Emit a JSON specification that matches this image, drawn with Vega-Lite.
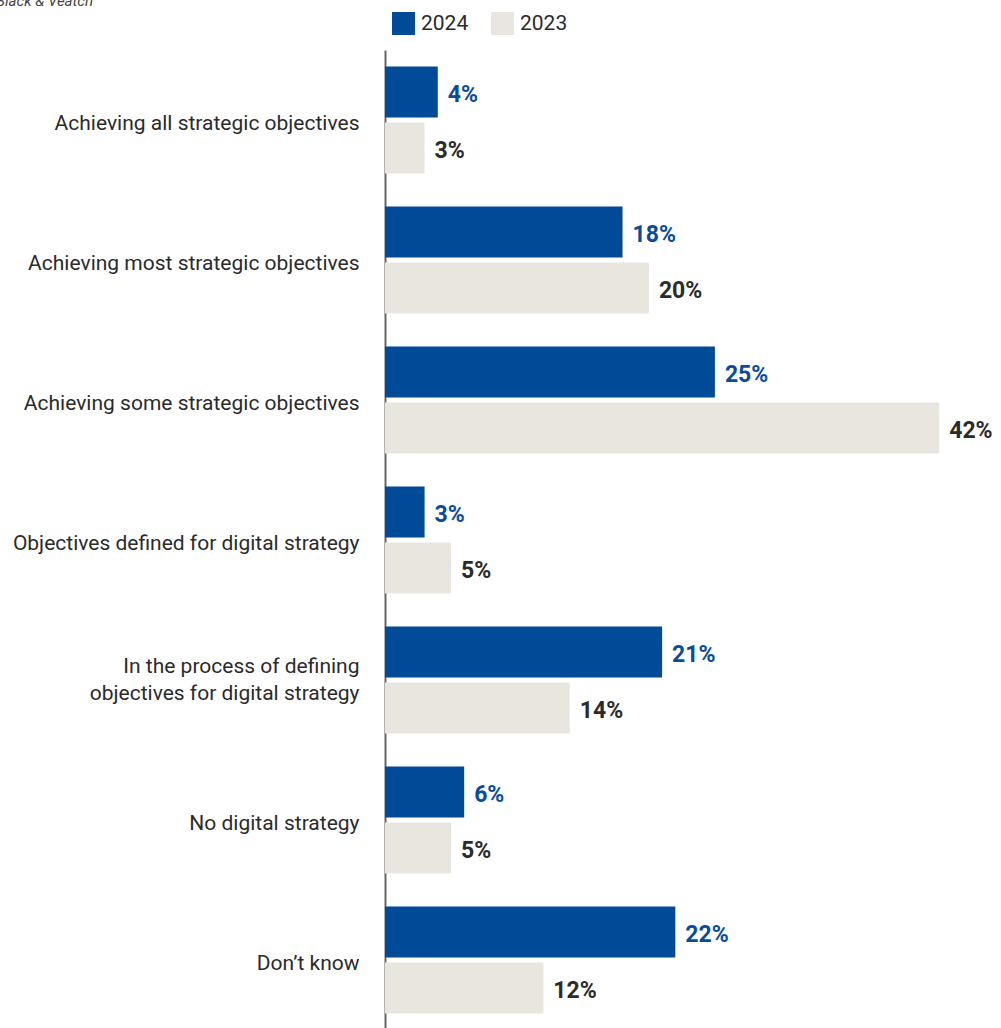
{
  "$schema": "https://vega.github.io/schema/vega-lite/v6.json",
  "width": 607,
  "height": 980,
  "autosize": {"type": "none"},
  "padding": {"left": 385, "top": 50, "right": 9, "bottom": 0},
  "background": "white",
  "title": {
    "text": "Black & Veatch",
    "anchor": "start",
    "frame": "group",
    "font": "Roboto",
    "fontSize": 15,
    "fontStyle": "italic",
    "fontWeight": "normal",
    "color": "#444444",
    "dx": -389,
    "dy": -3,
    "offset": 0
  },
  "config": {
    "view": {"stroke": null},
    "font": "Roboto"
  },
  "data": {
    "values": [
      {"category": "Achieving all strategic objectives", "year": "2024", "value": 4},
      {"category": "Achieving all strategic objectives", "year": "2023", "value": 3},
      {"category": "Achieving most strategic objectives", "year": "2024", "value": 18},
      {"category": "Achieving most strategic objectives", "year": "2023", "value": 20},
      {"category": "Achieving some strategic objectives", "year": "2024", "value": 25},
      {"category": "Achieving some strategic objectives", "year": "2023", "value": 42},
      {"category": "Objectives defined for digital strategy", "year": "2024", "value": 3},
      {"category": "Objectives defined for digital strategy", "year": "2023", "value": 5},
      {"category": "In the process of defining objectives for digital strategy", "year": "2024", "value": 21},
      {"category": "In the process of defining objectives for digital strategy", "year": "2023", "value": 14},
      {"category": "No digital strategy", "year": "2024", "value": 6},
      {"category": "No digital strategy", "year": "2023", "value": 5},
      {"category": "Don’t know", "year": "2024", "value": 22},
      {"category": "Don’t know", "year": "2023", "value": 12}
    ]
  },
  "encoding": {
    "y": {
      "field": "category",
      "type": "nominal",
      "sort": null,
      "scale": {"paddingInner": 0.236, "paddingOuter": 0.118},
      "axis": {
        "title": null,
        "ticks": false,
        "labelFont": "Roboto",
        "labelFontSize": 21,
        "labelColor": "#2b2b2b",
        "labelPadding": 26,
        "labelLimit": 400,
        "labelLineHeight": 27,
        "labelOffset": {"condition": {"test": "datum.value == 'In the process of defining objectives for digital strategy'", "value": -13}, "value": 4},
        "domain": true,
        "domainColor": "#666666",
        "domainWidth": 2,
        "labelExpr": "datum.value == 'In the process of defining objectives for digital strategy' ? ['In the process of defining', 'objectives for digital strategy'] : datum.value"
      }
    },
    "yOffset": {
      "field": "year",
      "type": "nominal",
      "sort": ["2024", "2023"],
      "scale": {"paddingInner": 0.089}
    },
    "x": {
      "field": "value",
      "type": "quantitative",
      "scale": {"domain": [0, 46]},
      "axis": null
    }
  },
  "layer": [
    {
      "mark": {"type": "bar"},
      "encoding": {
        "color": {
          "field": "year",
          "type": "nominal",
          "sort": ["2024", "2023"],
          "scale": {"domain": ["2024", "2023"], "range": ["#004A98", "#E8E6DF"]},
          "legend": {
            "title": null,
            "orient": "none",
            "direction": "horizontal",
            "legendX": 7,
            "legendY": -38,
            "symbolType": "square",
            "symbolSize": 529,
            "symbolStrokeWidth": 0,
            "labelFont": "Roboto",
            "labelFontSize": 21,
            "labelColor": "#2b2b2b",
            "labelOffset": 6,
            "columnPadding": 22
          }
        }
      }
    },
    {
      "mark": {
        "type": "text",
        "align": "left",
        "baseline": "middle",
        "dx": 10,
        "dy": 3,
        "font": "Roboto",
        "fontSize": 23,
        "fontWeight": "bold",
        "text": {"expr": "datum.value + '%'"}
      },
      "encoding": {
        "color": {
          "condition": {"test": "datum.year == '2024'", "value": "#0B4C9A"},
          "value": "#2b2b2b"
        }
      }
    }
  ]
}
